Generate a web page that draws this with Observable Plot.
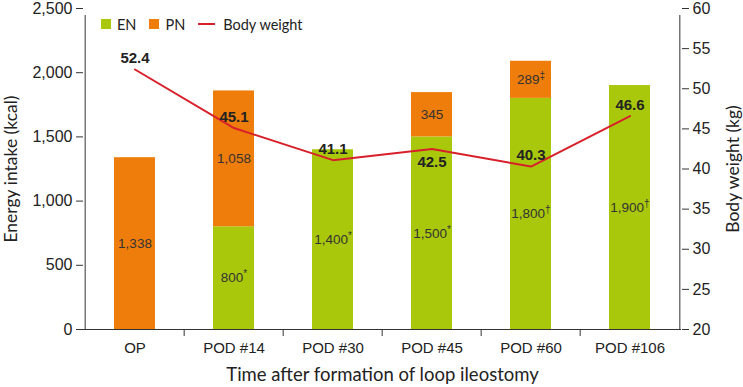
<!DOCTYPE html>
<html><head><meta charset="utf-8">
<script src="https://cdn.jsdelivr.net/npm/d3@7"></script>
<script src="https://cdn.jsdelivr.net/npm/@observablehq/plot@0.6"></script>
<style>
body{margin:0;background:#fff;}
#wrap{position:relative;width:743px;height:387px;}
.legend{position:absolute;left:101px;top:13px;height:22px;font-family:Lato,sans-serif;font-size:14.5px;color:#222;display:flex;align-items:center;}
.legend .sw{width:10px;height:10px;margin-right:6px;}
.legend .ln{width:17px;height:2px;margin-right:8px;}
.legend .item{display:flex;align-items:center;margin-right:13px;}
</style></head><body><div id="wrap"></div><script>
const categories = ["OP","POD #14","POD #30","POD #45","POD #60","POD #106"];
const enValues = [0,800,1400,1500,1800,1900];
const pnValues = [1338,1058,0,345,289,0];
const enMarks = ["","*","*","*","†","†"];
const pnMarks = ["","","","","‡",""];
const bodyWeight = [52.4,45.1,41.1,42.5,40.3,46.6];
const weightLabelBelow = [false,false,false,true,false,false];
const kcalTicks = [0,500,1000,1500,2000,2500];
const kgTicks = [20,25,30,35,40,45,50,55,60];

const colors = {EN:"#a9c80c", PN:"#ef7d0b", line:"#d8202a"};
const W = 743, H = 387, ML = 83, MR = 62, MT = 8, MB = 58;
const step = (W - ML - MR) / categories.length;
const fmt = d3.format(",");

const stacked = [];
categories.forEach((c,i) => {
  stacked.push({cat:c, type:"EN", value:enValues[i], mark:enMarks[i]});
  stacked.push({cat:c, type:"PN", value:pnValues[i], mark:pnMarks[i]});
});
const weights = categories.map((c,i) => ({cat:c, w:bodyWeight[i], below:weightLabelBelow[i]}));
const kg = d3.scaleLinear([20,60],[0,2500]);
const titleFont = "Lato, 'Open Sans', sans-serif";

const plot = Plot.plot({
  width: W, height: H,
  marginLeft: ML, marginRight: MR, marginTop: MT, marginBottom: MB,
  style: {fontFamily:"'Liberation Sans', Arial, sans-serif", fontSize:"16px", color:"#222", background:"#fff"},
  x: {domain: categories, paddingInner: 0.59, paddingOuter: 0.295, label: null},
  y: {domain: [0,2500], label: null},
  color: {domain:["EN","PN"], range:[colors.EN, colors.PN]},
  marks: [
    Plot.barY(stacked, {x:"cat", y:"value", fill:"type", order:["EN","PN"]}),
    Plot.text(stacked, Plot.stackY({x:"cat", y:"value", z:"type", order:["EN","PN"],
      text: d => d.value > 0 ? fmt(d.value) + d.mark : null,
      fontSize: 13.5, fill:"#333", className:"seg"})),
    Plot.line(weights, {x:"cat", y: d => kg(d.w), stroke: colors.line, strokeWidth: 2}),
    Plot.text(weights.filter(d => !d.below), {x:"cat", y: d => kg(d.w), text: d => d.w.toFixed(1),
      dy: -11, fontWeight:"bold", fontSize:15, fill:"#222"}),
    Plot.text(weights.filter(d => d.below), {x:"cat", y: d => kg(d.w), text: d => d.w.toFixed(1),
      dy: 13, fontWeight:"bold", fontSize:15, fill:"#222"}),
    // axis lines
    Plot.ruleY([0], {stroke:"#333"}),
    Plot.ruleX([categories[0]], {dx: -step/2, y1: 0, y2: 2500, stroke:"#333", insetBottom:-7}),
    Plot.ruleX([categories[categories.length-1]], {dx: step/2, y1: 0, y2: 2500, stroke:"#333", insetBottom:-7}),
    Plot.ruleX(categories.slice(1), {dx: -step/2, y1: 0, y2: 0, stroke:"#333", insetBottom:-7}),
    Plot.axisY(kcalTicks, {anchor:"left", tickSize:7, tickPadding:4, tickFormat: fmt, label:null, stroke:"#333", fontSize:16}),
    Plot.axisY(kgTicks.map(v => kg(v)), {anchor:"right", tickSize:7, tickPadding:4, tickFormat: v => String(Math.round(kg.invert(v))), label:null, stroke:"#333", fontSize:16}),
    Plot.axisX({tickSize:0, tickPadding:13, label:null, fontSize:15}),
    Plot.text(["Energy intake (kcal)"], {frameAnchor:"left", textAnchor:"middle", lineAnchor:"middle", rotate:-90, dx:-72, fontFamily:titleFont, fontSize:17.5, fill:"#222"}),
    Plot.text(["Body weight (kg)"], {frameAnchor:"right", textAnchor:"middle", lineAnchor:"middle", rotate:-90, dx:52, fontFamily:titleFont, fontSize:17.5, fill:"#222"}),
    Plot.text(["Time after formation of loop ileostomy"], {frameAnchor:"bottom", textAnchor:"middle", lineAnchor:"middle", dy:46, fontFamily:titleFont, fontSize:18.5, fill:"#222"})
  ]
});

// superscript footnote marks
d3.select(plot).selectAll("g.seg text").each(function(){
  const t = this.textContent;
  const last = t.slice(-1);
  if ("*†‡".includes(last)) {
    const sel = d3.select(this);
    sel.text(t.slice(0,-1));
    sel.append("tspan").attr("font-size", 10).attr("dy", "-0.5em").text(last);
  }
});

const wrap = document.getElementById("wrap");
wrap.appendChild(plot);
const legend = document.createElement("div");
legend.className = "legend";
legend.innerHTML = `<span class="item"><span class="sw" style="background:${colors.EN}"></span>EN</span>` +
  `<span class="item"><span class="sw" style="background:${colors.PN}"></span>PN</span>` +
  `<span class="item"><span class="ln" style="background:${colors.line}"></span>Body weight</span>`;
wrap.appendChild(legend);
</script></body></html>
